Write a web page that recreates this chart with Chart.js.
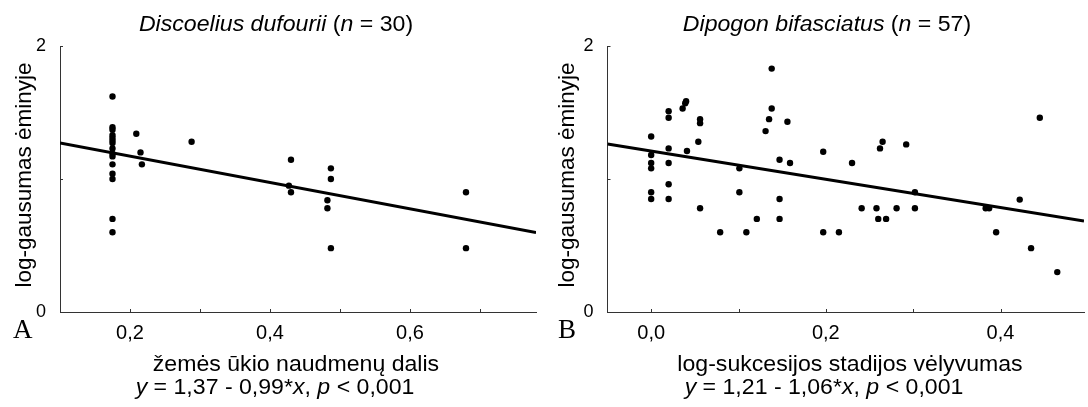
<!DOCTYPE html>
<html>
<head>
<meta charset="utf-8">
<script src="https://cdn.jsdelivr.net/npm/chart.js@4"></script>
<style>
  html, body { margin: 0; padding: 0; background: #fff; }
  #wrap { position: relative; width: 1088px; height: 407px; overflow: hidden; font-family: "Liberation Sans", Arial, sans-serif; color: #000; }
  canvas { position: absolute; top: 0; }
  .txt { position: absolute; white-space: nowrap; line-height: 1; font-size: 22px; transform: translateX(-50%) scaleX(1.05); }
  .ylab { position: absolute; white-space: nowrap; line-height: 1; font-size: 22.5px; transform: translate(-50%, -50%) rotate(-90deg); }
  .panel { position: absolute; font-family: "Liberation Serif", "Times New Roman", serif; font-size: 27px; line-height: 1; }
</style>
</head>
<body>
<div id="wrap">
  <canvas id="chartA" width="544" height="407" style="left:0"></canvas>
  <canvas id="chartB" width="544" height="407" style="left:544px"></canvas>

  <div class="txt" style="left:276px; top:13px"><i>Discoelius dufourii</i> (<i>n</i> = 30)</div>
  <div class="txt" style="left:827px; top:13px"><i>Dipogon bifasciatus</i> (<i>n</i> = 57)</div>

  <div class="ylab" style="left:24px; top:175px">log-gausumas ėminyje</div>
  <div class="ylab" style="left:567px; top:175px">log-gausumas ėminyje</div>

  <div class="panel" style="left:13px; top:316px">A</div>
  <div class="panel" style="left:558px; top:316px">B</div>

  <div class="txt" style="left:296px; top:353px">žemės ūkio naudmenų dalis</div>
  <div class="txt" style="left:850px; top:353px">log-sukcesijos stadijos vėlyvumas</div>

  <div class="txt" style="left:275px; top:376px"><i>y</i> = 1,37 - 0,99*<i>x</i>, <i>p</i> &lt; 0,001</div>
  <div class="txt" style="left:824px; top:376px"><i>y</i> = 1,21 - 1,06*<i>x</i>, <i>p</i> &lt; 0,001</div>
</div>

<script>
// A: Discoelius dufourii
const xA = [0.175, 0.175, 0.175, 0.175, 0.175, 0.175, 0.175, 0.175, 0.175, 0.175, 0.175, 0.175, 0.175, 0.175, 0.175,
            0.209, 0.215, 0.217, 0.288, 0.430, 0.427, 0.430, 0.487, 0.487, 0.482, 0.482, 0.487, 0.680, 0.680];
const yA = [1.62, 1.39, 1.37, 1.33, 1.31, 1.29, 1.27, 1.23, 1.19, 1.17, 1.11, 1.04, 1.00, 0.70, 0.60,
            1.34, 1.20, 1.11, 1.28, 1.145, 0.95, 0.90, 1.08, 1.00, 0.84, 0.78, 0.48, 0.90, 0.48];
const fitAx = [0.10, 0.78];
const fitAy = [1.271, 0.598];
const xTicksA = [0.2, 0.3, 0.4, 0.5, 0.6, 0.7];
const xLabelsA = ['0,2', '', '0,4', '', '0,6', ''];

// B: Dipogon bifasciatus
const xB = [0, 0, 0, 0, 0, 0,
            0.020, 0.020, 0.020, 0.020, 0.020, 0.020,
            0.036, 0.039, 0.040, 0.041, 0.056, 0.056, 0.054, 0.056,
            0.079, 0.101, 0.101, 0.109, 0.121, 0.131, 0.135, 0.138, 0.138,
            0.147, 0.147, 0.147, 0.156, 0.159, 0.197, 0.197, 0.215, 0.230,
            0.241, 0.258, 0.260, 0.262, 0.265, 0.269, 0.281, 0.292, 0.302, 0.302,
            0.383, 0.387, 0.395, 0.422, 0.435, 0.445, 0.465];
const yB = [1.32, 1.18, 1.12, 1.08, 0.90, 0.85,
            1.51, 1.46, 1.23, 1.12, 0.96, 0.85,
            1.53, 1.57, 1.585, 1.21, 1.45, 1.42, 1.28, 0.78,
            0.60, 1.08, 0.90, 0.60, 0.70, 1.36, 1.45, 1.53, 1.83,
            1.145, 0.85, 0.70, 1.43, 1.12, 1.205, 0.60, 0.60, 1.12,
            0.78, 0.78, 0.70, 1.23, 1.28, 0.70, 0.78, 1.26, 0.90, 0.78,
            0.78, 0.78, 0.60, 0.845, 0.48, 1.46, 0.30];
const fitBx = [-0.05, 0.4956];
const fitBy = [1.263, 0.685];
const xTicksB = [0.0, 0.1, 0.2, 0.3, 0.4];
const xLabelsB = ['0,0', '', '0,2', '', '0,4'];

const yTicks = [0, 1, 2];
const yLabels = ['0', '', '2'];

const axisColor = '#333';

// small inward tick marks on both axes
const innerTicks = {
    id: 'innerTicks',
    afterDraw(chart, args, opts) {
        const ctx = chart.ctx;
        const xs = chart.scales.x, ys = chart.scales.y;
        const a = chart.chartArea;
        ctx.save();
        ctx.strokeStyle = axisColor;
        ctx.lineWidth = 1;
        ctx.beginPath();
        opts.xTicks.forEach(v => {
            const px = Math.round(xs.getPixelForValue(v)) + 0.5;
            ctx.moveTo(px, a.bottom);
            ctx.lineTo(px, a.bottom - 3);
        });
        yTicks.forEach(v => {
            const py = Math.round(ys.getPixelForValue(v)) + 0.5;
            ctx.moveTo(a.left, py);
            ctx.lineTo(a.left + 3, py);
        });
        ctx.stroke();
        ctx.restore();
    }
};

function makeChart(id, xs, ys, fitX, fitY, xTicks, xLabels, xMin, xMax, yWidth, padRight) {
    const points = xs.map((x, i) => ({ x: x, y: ys[i] }));
    const fit = fitX.map((x, i) => ({ x: x, y: fitY[i] }));
    return new Chart(document.getElementById(id), {
        type: 'scatter',
        data: {
            datasets: [{
                data: points,
                backgroundColor: '#000',
                borderColor: '#000',
                pointRadius: 3.2,
                pointBorderWidth: 0
            }, {
                type: 'line',
                data: fit,
                borderColor: '#000',
                borderWidth: 3,
                pointRadius: 0,
                fill: false,
                tension: 0
            }]
        },
        options: {
            responsive: false,
            animation: false,
            layout: { padding: { top: 46, right: padRight, left: 0, bottom: 0 } },
            plugins: {
                legend: { display: false },
                tooltip: { enabled: false },
                innerTicks: { xTicks: xTicks }
            },
            scales: {
                x: {
                    type: 'linear',
                    min: xMin,
                    max: xMax,
                    afterBuildTicks: s => { s.ticks = xTicks.map(v => ({ value: v })); },
                    afterFit: s => { s.height = 95; },
                    grid: { display: false },
                    border: { display: true, color: axisColor, width: 1 },
                    ticks: {
                        autoSkip: false,
                        maxRotation: 0,
                        padding: 1,
                        color: '#000',
                        font: { family: '"Liberation Sans", Arial, sans-serif', size: 20 },
                        callback: (v, i) => xLabels[i]
                    }
                },
                y: {
                    min: 0,
                    max: 2,
                    afterBuildTicks: s => { s.ticks = yTicks.map(v => ({ value: v })); },
                    afterFit: s => { s.width = yWidth; },
                    grid: { display: false },
                    border: { display: true, color: axisColor, width: 1 },
                    ticks: {
                        padding: 6,
                        color: '#000',
                        font: { family: '"Liberation Sans", Arial, sans-serif', size: 18 },
                        callback: (v, i) => yLabels[i]
                    }
                }
            }
        },
        plugins: [innerTicks]
    });
}

makeChart('chartA', xA, yA, fitAx, fitAy, xTicksA, xLabelsA, 0.10, 0.78, 60, 8);
makeChart('chartB', xB, yB, fitBx, fitBy, xTicksB, xLabelsB, -0.05, 0.4956, 63.5, 0);
</script>
</body>
</html>
